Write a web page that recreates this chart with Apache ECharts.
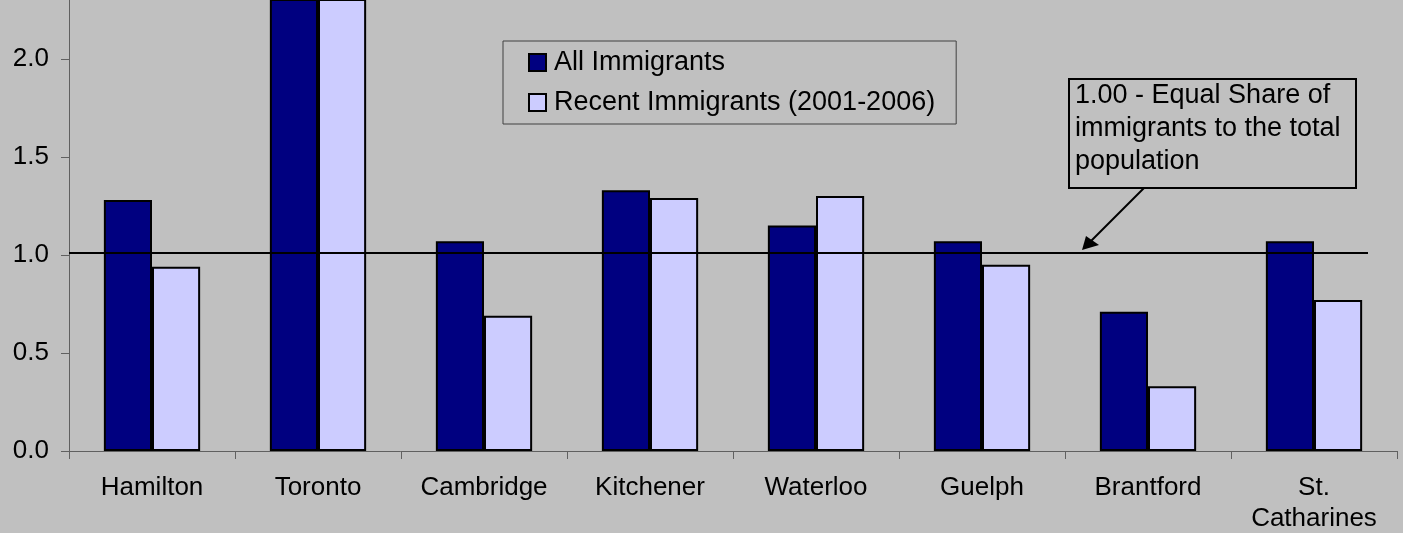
<!DOCTYPE html>
<html>
<head>
<meta charset="utf-8">
<script src="https://cdn.jsdelivr.net/npm/echarts@6/dist/echarts.min.js"></script>
<style>
  html, body { margin: 0; padding: 0; background: #c0c0c0; }
  #chart { width: 1403px; height: 533px; }
</style>
</head>
<body>
<div id="chart"></div>
<script>
// data
const cities = ['Hamilton', 'Toronto', 'Cambridge', 'Kitchener', 'Waterloo', 'Guelph', 'Brantford', 'St.\nCatharines'];
const allImmigrants = [1.28, 2.35, 1.07, 1.33, 1.15, 1.07, 0.71, 1.07];
const recentImmigrants = [0.94, 2.6, 0.69, 1.29, 1.30, 0.95, 0.33, 0.77];
const seriesNames = ['All Immigrants', 'Recent Immigrants (2001-2006)'];
const equalShare = 1.0;
const noteLines = ['1.00 - Equal Share of', 'immigrants to the total', 'population'];

const font = "'Liberation Sans', Arial, sans-serif";
const chart = echarts.init(document.getElementById('chart'), null, { renderer: 'canvas' });

chart.setOption({
  backgroundColor: '#c0c0c0',
  animation: false,
  textStyle: { fontFamily: font, color: '#000' },
  grid: { left: 69, right: 6, top: 0, bottom: 82, containLabel: false, outerBoundsMode: 'none' },
  legend: {
    orient: 'vertical',
    left: 503,
    top: 41,
    padding: [8, 21, 8, 25],
    itemWidth: 17,
    itemHeight: 17,
    itemGap: 13,
    icon: 'rect',
    borderColor: '#404040',
    borderWidth: 1,
    textStyle: { fontSize: 27, color: '#000', fontFamily: font, padding: [0, 0, 0, 3] },
    data: seriesNames
  },
  xAxis: {
    type: 'category',
    data: cities,
    axisLine: { lineStyle: { color: '#606060', width: 1 } },
    axisTick: { show: true, length: 8, lineStyle: { color: '#606060' } },
    axisLabel: { interval: 0, margin: 21, fontSize: 26, color: '#000', fontFamily: font, lineHeight: 31 }
  },
  yAxis: {
    type: 'value',
    min: 0,
    max: 2.3,
    interval: 0.5,
    axisLine: { show: true, lineStyle: { color: '#606060', width: 1 } },
    axisTick: { show: true, length: 8, lineStyle: { color: '#606060' } },
    splitLine: { show: false },
    axisLabel: {
      margin: 20, fontSize: 26, color: '#000', fontFamily: font,
      showMaxLabel: false,
      formatter: v => v.toFixed(1)
    }
  },
  series: [
    {
      name: seriesNames[0],
      type: 'bar',
      data: allImmigrants,
      barGap: '0%',
      barCategoryGap: '42%',
      itemStyle: { color: '#000080', borderColor: '#000', borderWidth: 2 }
    },
    {
      name: seriesNames[1],
      type: 'bar',
      data: recentImmigrants,
      itemStyle: { color: '#ccccff', borderColor: '#000', borderWidth: 2 }
    }
  ]
});

// reference line at 1.00 (position taken from the y axis scale), plus the note box and arrow
const lineY = chart.convertToPixel({ yAxisIndex: 0 }, equalShare);
chart.setOption({
  graphic: [
    {
      type: 'line',
      shape: { x1: 69, y1: lineY - 2, x2: 1368, y2: lineY - 2 },
      style: { stroke: '#000', lineWidth: 2 },
      z: 5
    },
    {
      type: 'rect',
      shape: { x: 1069, y: 79, width: 287, height: 109 },
      style: { fill: '#c0c0c0', stroke: '#000', lineWidth: 2 },
      z: 10
    },
    {
      type: 'text',
      left: 1075,
      top: 79,
      style: { text: noteLines.join('\n'), font: '27px ' + font, fill: '#000', lineHeight: 33 },
      z: 11
    },
    {
      type: 'line',
      shape: { x1: 1144, y1: 188, x2: 1088, y2: 244 },
      style: { stroke: '#000', lineWidth: 2 },
      z: 10
    },
    {
      type: 'polygon',
      shape: { points: [[1082, 250], [1086, 236], [1099, 245]] },
      style: { fill: '#000' },
      z: 10
    }
  ]
});
</script>
</body>
</html>
